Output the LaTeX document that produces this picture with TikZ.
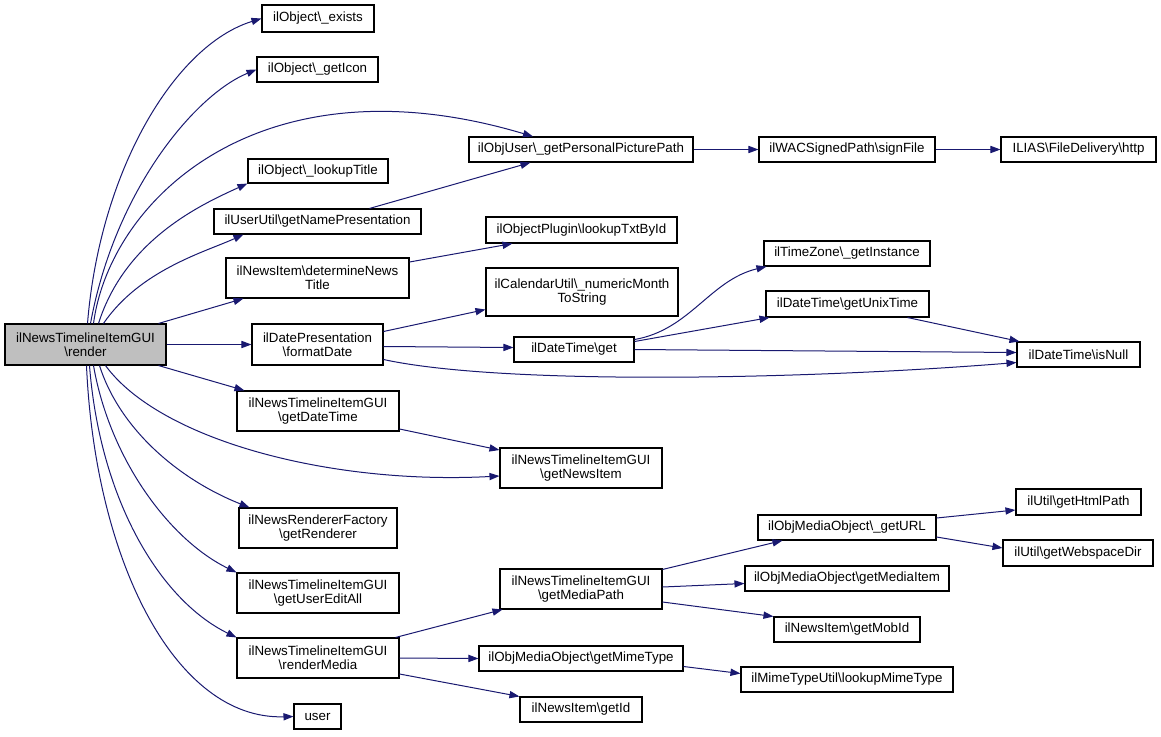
\documentclass[tikz,border=0pt]{standalone}
\usepackage{fontspec}
\setmainfont{Liberation Sans}
\usetikzlibrary{arrows.meta,calc}
\newcommand{\bs}{\textbackslash}
\definecolor{edgecol}{HTML}{191970}
\definecolor{hlfill}{HTML}{BFBFBF}
\tikzset{
  box/.style={draw=black, line width=0.8pt, fill=white, inner sep=0pt, align=center,
    font=\fontsize{10}{10.5}\selectfont},
  hl/.style={fill=hlfill},
  call/.style={draw=edgecol, line width=0.75pt, -{Triangle[length=7.5pt,width=5.4pt]}}
}
\newcommand{\bx}[6][]{\node[box,#1, minimum width={#4*0.75pt}, minimum height={#5*0.75pt}] (#2) at (#3) {#6};}
\begin{document}
\begin{tikzpicture}[x=0.75pt,y=-0.75pt]
\useasboundingbox (0,0) rectangle (1161,736);
% nodes
\bx[hl]{render}{85.5,344.5}{161}{41}{ilNewsTimelineItemGUI\\\bs render}
\bx{exists}{318,18.5}{112}{27}{ilObject\bs\_exists}
\bx{getIcon}{317.5,69.5}{121}{25}{ilObject\bs\_getIcon}
\bx{pPP}{581,149.5}{224}{25}{ilObjUser\bs\_getPersonalPicturePath}
\bx{lookupTitle}{318,171}{140}{24}{ilObject\bs\_lookupTitle}
\bx{gnp}{317.5,221.5}{207}{25}{ilUserUtil\bs getNamePresentation}
\bx{lookupTxt}{581.5,230}{191}{26}{ilObjectPlugin\bs lookupTxtById}
\bx{signFile}{847,149.5}{176}{25}{ilWACSignedPath\bs signFile}
\bx{http}{1078.5,149.5}{155}{25}{ILIAS\bs FileDelivery\bs http}
\bx{TimeZone}{847,253.5}{166}{25}{ilTimeZone\bs\_getInstance}
\bx{UnixTime}{847.5,304}{163}{26}{ilDateTime\bs getUnixTime}
\bx{isNull}{1078.5,354.5}{123}{25}{ilDateTime\bs isNull}
\bx{dnt}{317.5,278}{183}{40}{ilNewsItem\bs determineNews\\Title}
\bx{numMonth}{582,292}{192}{48}{ilCalendarUtil\bs\_numericMonth\\ToString}
\bx{formatDate}{317.5,344.5}{131}{41}{ilDatePresentation\\\bs formatDate}
\bx{get}{574,349.5}{120}{25}{ilDateTime\bs get}
\bx{getDateTime}{318,411}{162}{40}{ilNewsTimelineItemGUI\\\bs getDateTime}
\bx{getNewsItem}{581,468}{162}{40}{ilNewsTimelineItemGUI\\\bs getNewsItem}
\bx{getRenderer}{318,528}{158}{40}{ilNewsRendererFactory\\\bs getRenderer}
\bx{getUserEditAll}{318,593}{162}{40}{ilNewsTimelineItemGUI\\\bs getUserEditAll}
\bx{getMediaPath}{581,589}{162}{40}{ilNewsTimelineItemGUI\\\bs getMediaPath}
\bx{renderMedia}{318,658}{162}{40}{ilNewsTimelineItemGUI\\\bs renderMedia}
\bx{getMimeType}{581,658.5}{204}{25}{ilObjMediaObject\bs getMimeType}
\bx{getId}{581,709.5}{122}{25}{ilNewsItem\bs getId}
\bx{user}{317.5,716.5}{47}{25}{user}
\bx{getURL}{847,527.5}{178}{25}{ilObjMediaObject\bs\_getURL}
\bx{getHtmlPath}{1078.5,502}{125}{26}{ilUtil\bs getHtmlPath}
\bx{getWebspaceDir}{1078,553}{150}{26}{ilUtil\bs getWebspaceDir}
\bx{getMediaItem}{847,578.5}{204}{25}{ilObjMediaObject\bs getMediaItem}
\bx{getMobId}{847,629.5}{146}{25}{ilNewsItem\bs getMobId}
\bx{lookupMimeType}{847,679.5}{212}{25}{ilMimeTypeUtil\bs lookupMimeType}
% edges from render
\draw[call] ($(render.north)+(2,0)$) .. controls (100,170) and (175,45) .. (exists.west);
\draw[call] ($(render.north)+(5,0)$) .. controls (115,190) and (195,95) .. (getIcon.west);
\draw[call] ($(render.north)+(8,0)$) .. controls (110,200) and (260,55) .. ($(pPP.north)+(-48,0)$);
\draw[call] ($(render.north)+(13,0)$) .. controls (125,240) and (200,205) .. ($(lookupTitle.south west)+(0,0)$);
\draw[call] ($(render.north)+(18,0)$) .. controls (140,270) and (205,252) .. ($(gnp.south west)+(30,0)$);
\draw[call] ($(render.north east)+(-8,0)$) -- ($(dnt.south west)+(18,0)$);
\draw[call] (render.east) -- (formatDate.west);
\draw[call] ($(render.south east)+(-8,0)$) -- ($(getDateTime.north west)+(8,0)$);
\draw[call] ($(render.south)+(20,0)$) .. controls (160,440) and (330,485) .. ($(getNewsItem.west)+(0,8)$);
\draw[call] ($(render.south)+(14,0)$) .. controls (120,430) and (180,480) .. ($(getRenderer.north west)+(11,0)$);
\draw[call] ($(render.south)+(8,0)$) .. controls (110,460) and (170,540) .. (getUserEditAll.north west);
\draw[call] ($(render.south)+(4,0)$) .. controls (100,500) and (160,600) .. (renderMedia.north west);
\draw[call] ($(render.south)+(1,0)$) .. controls (95,560) and (175,720) .. (user.west);
% other edges
\draw[call] ($(gnp.north)+(52,0)$) -- ($(pPP.south west)+(62,0)$);
\draw[call] (pPP.east) -- (signFile.west);
\draw[call] (signFile.east) -- (http.west);
\draw[call] ($(dnt.east)+(0,-16)$) -- ($(lookupTxt.south west)+(27,0)$);
\draw[call] ($(formatDate.east)+(0,-13)$) -- ($(numMonth.south west)+(0,-7)$);
\draw[call] ($(formatDate.east)+(0,2)$) -- ($(get.west)+(0,-2)$);
\draw[call] ($(formatDate.east)+(0,15)$) .. controls (500,385) and (800,380) .. ($(isNull.west)+(0,8)$);
\draw[call] ($(get.east)+(0,-10)$) .. controls (690,330) and (710,280) .. ($(TimeZone.south west)+(3,0)$);
\draw[call] ($(get.east)+(0,-8)$) -- ($(UnixTime.south west)+(4,0)$);
\draw[call] (get.east) -- ($(isNull.west)+(0,-2)$);
\draw[call] ($(UnixTime.south east)+(-22,0)$) -- ($(isNull.north west)+(3,0)$);
\draw[call] ($(getDateTime.east)+(0,18)$) -- ($(getNewsItem.west)+(0,-18)$);
\draw[call] ($(renderMedia.north east)+(-4,0)$) -- ($(getMediaPath.south west)+(3,0)$);
\draw[call] (renderMedia.east) -- (getMimeType.west);
\draw[call] ($(renderMedia.east)+(0,16)$) -- (getId.north west);
\draw[call] ($(getMediaPath.north east)+(0,1)$) -- ($(getURL.south west)+(25,0)$);
\draw[call] ($(getMediaPath.east)+(0,-2)$) -- ($(getMediaItem.west)+(0,5)$);
\draw[call] ($(getMediaPath.east)+(0,13)$) -- (getMobId.north west);
\draw[call] ($(getMimeType.east)+(0,8)$) -- ($(lookupMimeType.west)+(0,-6)$);
\draw[call] ($(getURL.east)+(0,-9.5)$) -- ($(getHtmlPath.west)+(0,8)$);
\draw[call] ($(getURL.east)+(0,9.5)$) -- ($(getWebspaceDir.west)+(0,-5)$);
\end{tikzpicture}
\end{document}
